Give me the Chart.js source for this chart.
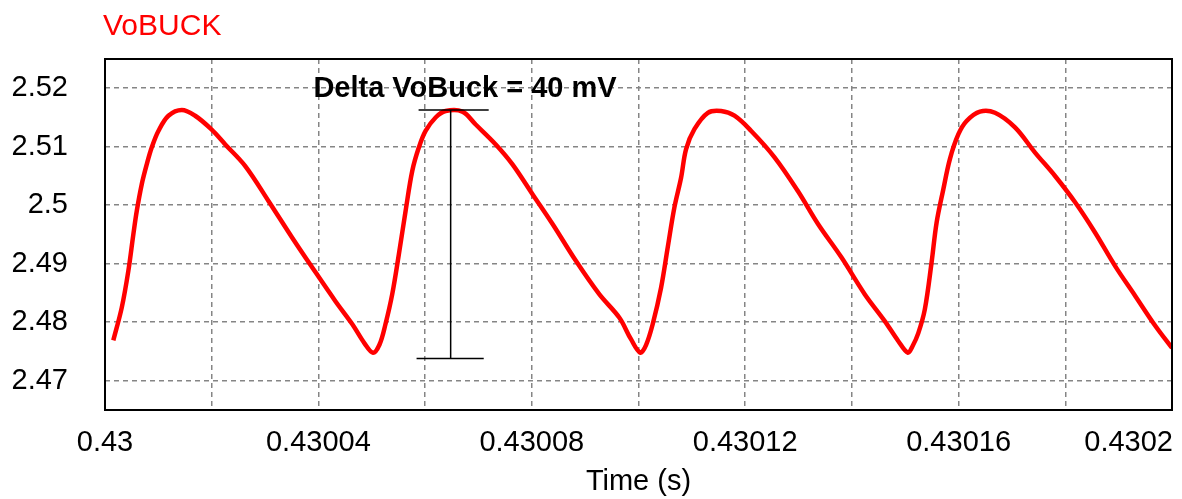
<!DOCTYPE html>
<html>
<head>
<meta charset="utf-8">
<title>VoBUCK</title>
<script src="https://cdn.jsdelivr.net/npm/chart.js@4.4.0/dist/chart.umd.min.js"></script>
<style>
  html, body { margin: 0; padding: 0; background: #fff; }
  #wrap { width: 1182px; height: 499px; position: relative; }
</style>
</head>
<body>
<div id="wrap"><canvas id="voChart"></canvas></div>
<script>
// Simulated buck output ripple
const timeS = [
    0.43000156, 0.43000314, 0.43000438, 0.43000531, 0.43000595, 0.43000689, 0.43000783, 0.43000877,
    0.43001001, 0.43001189, 0.43001440, 0.43001690, 0.43001991, 0.43002254, 0.43002629, 0.43003067,
    0.43003506, 0.43003882, 0.43004319, 0.43004633, 0.43004864, 0.43005023,
    0.43005146, 0.43005258, 0.43005384, 0.43005508, 0.43005634, 0.43005760, 0.43005884, 0.43006009,
    0.43006197, 0.43006385, 0.43006699, 0.43006948, 0.43007324, 0.43007638, 0.43008013, 0.43008389,
    0.43008826, 0.43009264, 0.43009639, 0.43009859, 0.43010032,
    0.43010141, 0.43010267, 0.43010423, 0.43010548, 0.43010672, 0.43010798, 0.43010892, 0.43011048,
    0.43011300, 0.43011549, 0.43011799, 0.43012113, 0.43012550, 0.43012990, 0.43013365, 0.43013803,
    0.43014240, 0.43014616, 0.43014868, 0.43015048,
    0.43015136, 0.43015243, 0.43015367, 0.43015493, 0.43015587, 0.43015713, 0.43015837, 0.43015994,
    0.43016150, 0.43016400, 0.43016682, 0.43017057, 0.43017433, 0.43017808, 0.43018184, 0.43018560,
    0.43018935, 0.43019311, 0.43019686, 0.43020000
];
const voBuck = [
    2.4769, 2.4825, 2.4888, 2.4950, 2.4990, 2.5036, 2.5070, 2.5099,
    2.5127, 2.5153, 2.5163, 2.5153, 2.5130, 2.5104, 2.5067, 2.5007,
    2.4945, 2.4894, 2.4836, 2.4797, 2.4764, 2.4748,
    2.4762, 2.4797, 2.4848, 2.4916, 2.4990, 2.5059, 2.5099, 2.5127,
    2.5150, 2.5161, 2.5160, 2.5138, 2.5104, 2.5070, 2.5019, 2.4968,
    2.4905, 2.4848, 2.4808, 2.4771, 2.4748,
    2.4761, 2.4797, 2.4859, 2.4928, 2.4996, 2.5047, 2.5096, 2.5130,
    2.5158, 2.5161, 2.5153, 2.5127, 2.5082, 2.5024, 2.4968, 2.4911,
    2.4848, 2.4802, 2.4768, 2.4748,
    2.4759, 2.4781, 2.4822, 2.4902, 2.4970, 2.5027, 2.5079, 2.5121,
    2.5144, 2.5160, 2.5158, 2.5133, 2.5090, 2.5050, 2.5005, 2.4953,
    2.4896, 2.4845, 2.4794, 2.4756
];

// Axis ticks
const xGridTimes = [0.43, 0.43002, 0.43004, 0.43006, 0.43008, 0.4301, 0.43012, 0.43014, 0.43016, 0.43018, 0.4302];
const xTickLabels = ['0.43', '', '0.43004', '', '0.43008', '', '0.43012', '', '0.43016', '', '0.4302'];
const yGridValues = [2.47, 2.48, 2.49, 2.5, 2.51, 2.52];
const yTickLabels = ['2.47', '2.48', '2.49', '2.5', '2.51', '2.52'];

// Delta measurement marker
const deltaTopV = 2.5163;
const deltaBottomV = 2.4738;
const deltaTopBar = [0.43005878, 0.43007192];
const deltaBottomBar = [0.43005840, 0.43007099];
const deltaStemTime = 0.43006479;
const deltaLabel = 'Delta VoBuck = 40 mV';
const deltaLabelAt = [0.43003906, 2.5185];

const FONT = '"Liberation Sans", Arial, sans-serif';
const TICK_SIZE = 29;
const X_PAD = 16;

const tracePoints = timeS.map((t, i) => ({ x: t, y: voBuck[i] }));
const markerPoints = [
    { x: deltaTopBar[0], y: deltaTopV }, { x: deltaTopBar[1], y: deltaTopV }, { x: deltaTopBar[1], y: null },
    { x: deltaStemTime, y: deltaTopV }, { x: deltaStemTime, y: deltaBottomV }, { x: deltaStemTime, y: null },
    { x: deltaBottomBar[0], y: deltaBottomV }, { x: deltaBottomBar[1], y: deltaBottomV }
];

// Frame, title, delta text and the right-aligned last x label
const overlay = {
    id: 'overlay',
    afterDraw(chart) {
        const { ctx, chartArea: a, scales: { x, y } } = chart;
        ctx.save();
        ctx.strokeStyle = '#000';
        ctx.lineWidth = 2;
        ctx.strokeRect(a.left, a.top, a.right - a.left, a.bottom - a.top);

        ctx.fillStyle = '#ff0000';
        ctx.font = '30px ' + FONT;
        ctx.textAlign = 'left';
        ctx.textBaseline = 'alphabetic';
        ctx.fillText('VoBUCK', 103, 35);

        ctx.fillStyle = '#000';
        ctx.font = 'bold 29px ' + FONT;
        ctx.fillText(deltaLabel, x.getPixelForValue(deltaLabelAt[0]), y.getPixelForValue(deltaLabelAt[1]));

        ctx.font = TICK_SIZE + 'px ' + FONT;
        ctx.textAlign = 'right';
        ctx.textBaseline = 'middle';
        ctx.fillText(xTickLabels[xTickLabels.length - 1], a.right + 1, x.top + X_PAD + TICK_SIZE * 1.2 / 2);
        ctx.restore();
    }
};

new Chart(document.getElementById('voChart'), {
    type: 'line',
    data: {
        datasets: [{
            label: 'delta',
            data: markerPoints,
            borderColor: '#000',
            borderWidth: 1.5,
            pointRadius: 0,
            spanGaps: false,
            tension: 0
        }, {
            label: 'VoBUCK',
            data: tracePoints,
            borderColor: '#ff0000',
            borderWidth: 4.5,
            pointRadius: 0,
            tension: 0.35
        }]
    },
    options: {
        responsive: true,
        maintainAspectRatio: false,
        animation: false,
        layout: { padding: { left: 0, right: 10, top: 59, bottom: 0 } },
        plugins: {
            legend: { display: false },
            tooltip: { enabled: false },
            title: { display: false }
        },
        scales: {
            x: {
                type: 'linear',
                min: 0.43,
                max: 0.4302,
                afterBuildTicks: s => { s.ticks = xGridTimes.map(v => ({ value: v })); },
                afterFit: s => { s.height = 89; s.paddingRight = 0; },
                ticks: {
                    padding: X_PAD,
                    maxRotation: 0,
                    autoSkip: false,
                    color: '#000',
                    font: { family: FONT, size: TICK_SIZE },
                    callback: (v, i) => (i === xTickLabels.length - 1 ? '' : xTickLabels[i])
                },
                grid: { color: '#858585', lineWidth: 1.5, drawTicks: false },
                border: { display: false, dash: [5, 4] },
                title: {
                    display: true,
                    text: 'Time (s)',
                    color: '#000',
                    font: { family: FONT, size: TICK_SIZE },
                    padding: { top: 0, bottom: 0 }
                }
            },
            y: {
                min: 2.465,
                max: 2.525,
                afterBuildTicks: s => { s.ticks = yGridValues.map(v => ({ value: v })); },
                afterFit: s => { s.width = 105; },
                ticks: {
                    padding: 37,
                    color: '#000',
                    font: { family: FONT, size: TICK_SIZE },
                    callback: (v, i) => yTickLabels[i]
                },
                grid: { color: '#858585', lineWidth: 1.5, drawTicks: false },
                border: { display: false, dash: [5, 4] }
            }
        }
    },
    plugins: [overlay]
});
</script>
</body>
</html>
